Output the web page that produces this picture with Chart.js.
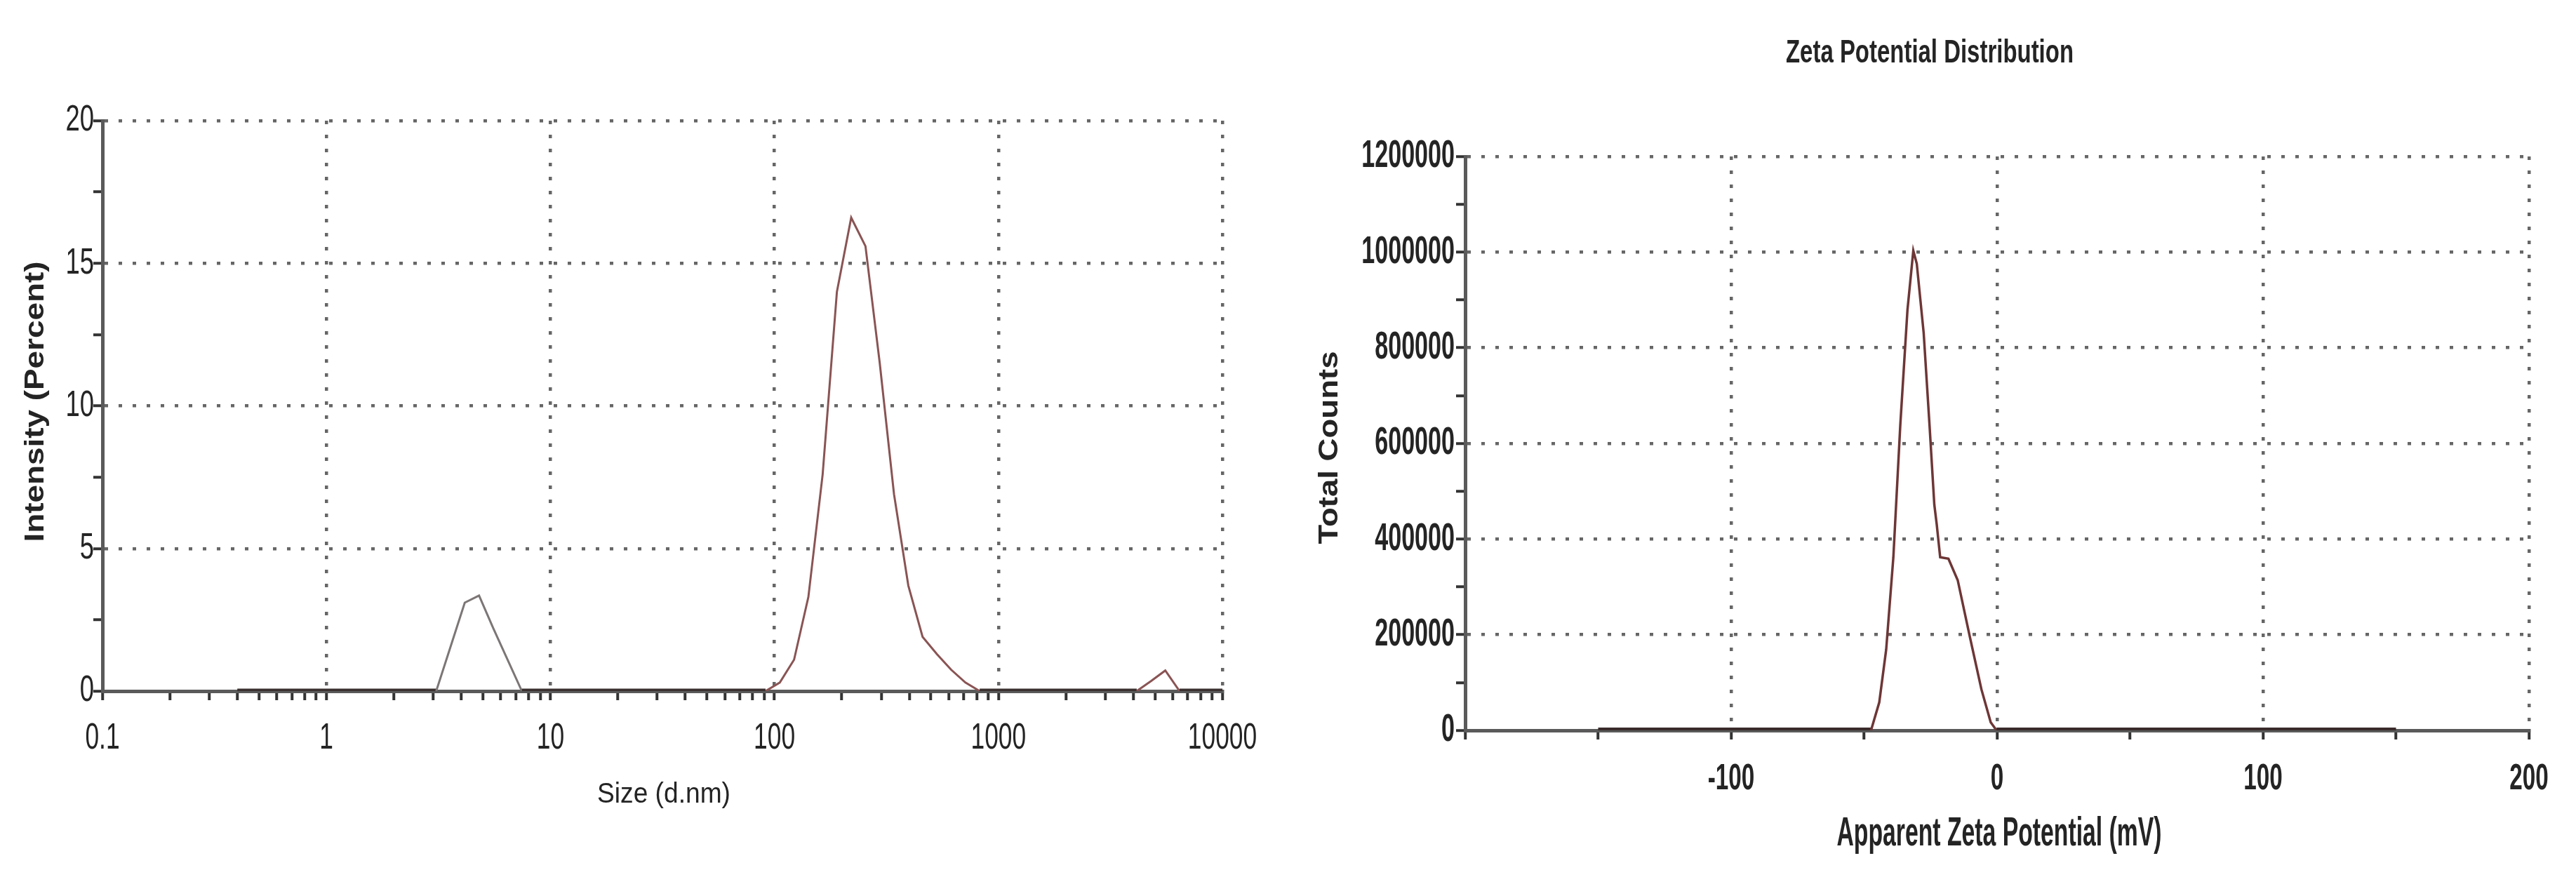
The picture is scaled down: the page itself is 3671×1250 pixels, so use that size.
<!DOCTYPE html>
<html>
<head>
<meta charset="utf-8">
<script src="https://cdn.jsdelivr.net/npm/chart.js@4.4.1/dist/chart.umd.min.js"></script>
<style>
  html, body { margin: 0; padding: 0; background: #fff; }
  body { width: 3671px; height: 1250px; position: relative; overflow: hidden; }
  .panel { position: absolute; top: 0; height: 1250px; }
  #sizePanel { left: 0; width: 1835px; }
  #zetaPanel { left: 1835px; width: 1836px; }
</style>
</head>
<body>
<div class="panel" id="sizePanel"><canvas id="sizeChart"></canvas></div>
<div class="panel" id="zetaPanel"><canvas id="zetaChart"></canvas></div>
<script>
// Size distribution by intensity
const sizeNm = [0.4, 3.091, 3.58, 4.145, 4.801, 5.56, 6.439, 7.456, 91.28, 105.7, 122.4, 141.8, 164.2,
  190.1, 220.2, 255.0, 295.3, 342.0, 396.1, 458.7, 531.2, 615.1, 712.4, 825.0, 4145, 4801, 5560, 6439, 10000];
const intensityPct = [0, 0, 1.55, 3.1, 3.35, 2.2, 1.1, 0, 0, 0.3, 1.1, 3.3, 7.6,
  14.0, 16.6, 15.6, 11.5, 6.9, 3.7, 1.9, 1.3, 0.75, 0.3, 0, 0, 0.35, 0.72, 0, 0];
const sizeTickLabels = ['0.1', '1', '10', '100', '1000', '10000'];
const intensityTicks = [0, 5, 10, 15, 20];

// Zeta potential distribution
const zetaMv = [-150, -47.4, -44.3, -41.7, -39.0, -36.4, -33.7, -31.5, -30.2, -27.6, -25.4,
  -23.6, -22.7, -21.4, -18.3, -14.8, -10.3, -5.9, -2.4, -0.2, 150];
const totalCounts = [0, 0, 58600, 169000, 362000, 638000, 879000, 1003000, 976000, 831000, 638000,
  472000, 431000, 362000, 359000, 314000, 197000, 86000, 17000, 0, 0];
const zetaTickLabels = [-100, 0, 100, 200];
const countTicks = [0, 200000, 400000, 600000, 800000, 1000000, 1200000];

const SANS = "'Liberation Sans', Arial, sans-serif";
const GRID = '#666';
const AXIS = '#5a5a5a';
const TICK = '#333';
const TEXT = '#242424';
const NONE = 'rgba(0,0,0,0)';

// minor log ticks 1..9 per decade
const logTickValues = [];
for (let e = -1; e <= 3; e++) {
  for (let m = 1; m <= 9; m++) logTickValues.push(Number((m * Math.pow(10, e)).toPrecision(6)));
}
logTickValues.push(10000);

function isDecade(v) {
  const l = Math.log10(v);
  return Math.abs(l - Math.round(l)) < 1e-6;
}

// the original lettering is narrow and tall, so text is drawn squeezed sideways
function drawSqueezed(ctx, text, font, x, y, sx, align, rotate) {
  ctx.save();
  ctx.font = font;
  ctx.fillStyle = TEXT;
  ctx.textAlign = align;
  ctx.textBaseline = 'middle';
  ctx.translate(x, y);
  if (rotate) ctx.rotate(rotate);
  ctx.scale(sx, 1);
  ctx.fillText(text, 0, 0);
  ctx.restore();
}

function squeezedText(titles, tickSpec) {
  return {
    id: 'squeezedText',
    afterDraw(chart) {
      const { ctx, chartArea } = chart;
      Object.entries(tickSpec).forEach(([id, s]) => {
        const scale = chart.scales[id];
        scale.ticks.forEach(tick => {
          const label = s.label(tick.value);
          if (!label) return;
          const p = scale.getPixelForValue(tick.value);
          if (scale.isHorizontal()) drawSqueezed(ctx, label, s.font, p, scale.top + s.offset, s.sx, 'center');
          else drawSqueezed(ctx, label, s.font, scale.right - s.offset, p, s.sx, 'right');
        });
      });
      titles.forEach(t => {
        const [x, y] = t.pos(chartArea);
        ctx.save();
        ctx.font = t.font;
        const sx = t.width / ctx.measureText(t.text).width;
        ctx.restore();
        drawSqueezed(ctx, t.text, t.font, x, y, sx, 'center', t.rotate);
      });
    }
  };
}

const midX = a => (a.left + a.right) / 2;
const midY = a => (a.top + a.bottom) / 2;
// flat stretches of the trace run along the axis and read as a heavier line
const onBaseline = ctx => ctx.p0.parsed.y === 0 && ctx.p1.parsed.y === 0;

function gridOptions(isMajor) {
  return {
    color: ctx => ctx.tick && isMajor(ctx.tick.value) ? GRID : NONE,
    lineWidth: 4.5,
    tickColor: TICK,
    tickLength: 13,
    tickWidth: 4
  };
}
const borderOptions = { color: AXIS, width: 5, dash: [5, 15] };

new Chart(document.getElementById('sizeChart'), {
  type: 'scatter',
  data: {
    datasets: [{
      data: sizeNm.map((x, i) => ({ x, y: intensityPct[i] })),
      showLine: true,
      borderColor: '#8a5454',
      borderWidth: 3,
      pointRadius: 0,
      tension: 0,
      segment: {
        borderColor: ctx => onBaseline(ctx) ? '#3a3030' : (ctx.p1.parsed.x < 20 ? '#7c7676' : '#8a5454'),
        borderWidth: ctx => onBaseline(ctx) ? 7 : 3
      }
    }]
  },
  options: {
    responsive: true,
    maintainAspectRatio: false,
    animation: false,
    layout: { padding: { left: 46, right: 93, top: 172, bottom: 165 } },
    plugins: { legend: { display: false }, tooltip: { enabled: false } },
    scales: {
      x: {
        type: 'logarithmic',
        min: 0.1,
        max: 10000,
        afterBuildTicks: axis => { axis.ticks = logTickValues.map(value => ({ value })); },
        afterFit: axis => { axis.height = 100; },
        grid: gridOptions(isDecade),
        border: borderOptions,
        ticks: { display: false, autoSkip: false }
      },
      y: {
        min: 0,
        max: 20,
        afterFit: axis => { axis.width = 100; },
        grid: gridOptions(v => intensityTicks.includes(v)),
        border: borderOptions,
        ticks: { display: false, stepSize: 2.5, autoSkip: false }
      }
    }
  },
  plugins: [squeezedText([
    { text: 'Size (d.nm)', font: `40px ${SANS}`, width: 190, pos: a => [midX(a) + 2, a.bottom + 148] },
    { text: 'Intensity (Percent)', font: `bold 38px ${SANS}`, width: 400, rotate: -Math.PI / 2,
      pos: a => [a.left - 94, midY(a) - 6] }
  ], {
    x: { label: v => sizeTickLabels.includes(String(v)) ? String(v) : '', font: `52px ${SANS}`, sx: 0.68, offset: 68 },
    y: { label: v => intensityTicks.includes(v) ? String(v) : '', font: `52px ${SANS}`, sx: 0.7, offset: 12 }
  })]
});

new Chart(document.getElementById('zetaChart'), {
  type: 'scatter',
  data: {
    datasets: [{
      data: zetaMv.map((x, i) => ({ x, y: totalCounts[i] })),
      showLine: true,
      borderColor: '#6e3636',
      borderWidth: 3.5,
      pointRadius: 0,
      tension: 0,
      segment: {
        borderColor: ctx => onBaseline(ctx) ? '#3a2a2a' : '#6e3636',
        borderWidth: ctx => onBaseline(ctx) ? 8 : 3.5
      }
    }]
  },
  options: {
    responsive: true,
    maintainAspectRatio: false,
    animation: false,
    layout: { padding: { left: 103, right: 67, top: 223, bottom: 109 } },
    plugins: { legend: { display: false }, tooltip: { enabled: false } },
    scales: {
      x: {
        type: 'linear',
        min: -200,
        max: 200,
        afterFit: axis => { axis.height = 100; },
        grid: gridOptions(v => zetaTickLabels.includes(v)),
        border: borderOptions,
        ticks: { display: false, stepSize: 50, autoSkip: false }
      },
      y: {
        min: 0,
        max: 1200000,
        afterFit: axis => { axis.width = 150; },
        grid: gridOptions(v => countTicks.includes(v)),
        border: borderOptions,
        ticks: { display: false, stepSize: 100000, autoSkip: false }
      }
    }
  },
  plugins: [squeezedText([
    { text: 'Zeta Potential Distribution', font: `bold 46px ${SANS}`, width: 410, pos: a => [midX(a) - 96, a.top - 147] },
    { text: 'Apparent Zeta Potential (mV)', font: `bold 58px ${SANS}`, width: 463, pos: a => [midX(a) + 3, a.bottom + 148] },
    { text: 'Total Counts', font: `bold 38px ${SANS}`, width: 275, rotate: -Math.PI / 2,
      pos: a => [a.left - 192, midY(a) + 6] }
  ], {
    x: { label: v => zetaTickLabels.includes(v) ? String(v) : '', font: `bold 52px ${SANS}`, sx: 0.64, offset: 70 },
    y: { label: v => countTicks.includes(v) ? String(v) : '', font: `bold 55px ${SANS}`, sx: 0.62, offset: 15 }
  })]
});
</script>
</body>
</html>
